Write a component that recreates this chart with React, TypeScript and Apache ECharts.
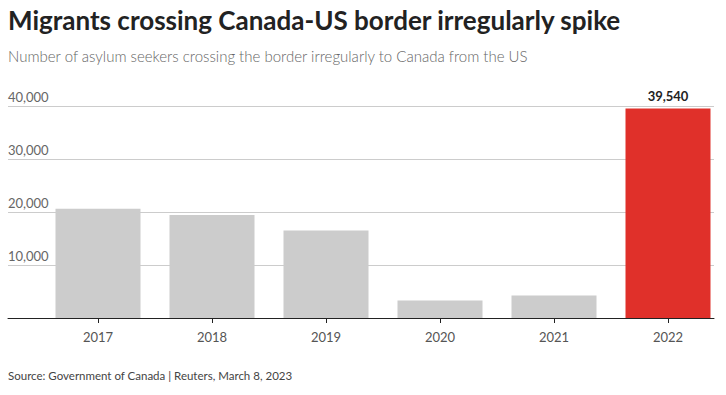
import React, { useEffect, useRef } from "react";
import * as echarts from "echarts";

const years = ["2017", "2018", "2019", "2020", "2021", "2022"];
const crossings = [20593, 19419, 16503, 3302, 4246, 39540];
const yTicks = [0, 10000, 20000, 30000, 40000];
const highlightIndex = 5;

const FONT = "Lato, 'Noto Sans', sans-serif";

export default function App() {
  const ref = useRef<HTMLDivElement>(null);
  useEffect(() => {
    if (!ref.current) return;
    const chart = echarts.init(ref.current, null, { renderer: "svg" });
    const yMax = yTicks[yTicks.length - 1];
    chart.setOption({
      animation: false,
      textStyle: { fontFamily: FONT },
      title: [
        {
          text: "Migrants crossing Canada-US border irregularly spike",
          left: 8,
          top: 7,
          padding: 0,
          textStyle: { fontSize: 26, fontWeight: "bold", color: "#222", fontFamily: FONT },
        },
        {
          text: "Number of asylum seekers crossing the border irregularly to Canada from the US",
          left: 8,
          top: 48,
          padding: 0,
          textStyle: { fontSize: 15, fontWeight: 300, color: "#666", fontFamily: FONT },
        },
        {
          text: "Source: Government of Canada | Reuters, March 8, 2023",
          left: 8,
          top: 369,
          padding: 0,
          textStyle: { fontSize: 11.5, fontWeight: "normal", color: "#444", fontFamily: FONT },
        },
      ],
      grid: [
        { left: 8, right: 12, top: 106, bottom: 77, containLabel: false },
        { left: 41, right: 1, top: 106, bottom: 77, containLabel: false },
      ],
      xAxis: [
        {
          gridIndex: 0,
          type: "category",
          data: years,
          axisLine: { show: true, lineStyle: { color: "#222", width: 1 } },
          axisTick: { show: false },
          axisLabel: { show: false },
        },
        {
          gridIndex: 1,
          type: "category",
          data: years,
          axisLine: { show: false },
          axisTick: { show: true, alignWithLabel: true, length: 5, lineStyle: { color: "#222" } },
          axisLabel: { color: "#555", fontSize: 13, margin: 12, fontFamily: FONT },
        },
      ],
      yAxis: [
        {
          gridIndex: 0,
          type: "value",
          min: 0,
          max: yMax,
          interval: 10000,
          axisLine: { show: false },
          axisTick: { show: false },
          splitLine: { show: true, lineStyle: { color: "#ccc", width: 1 } },
          axisLabel: {
            inside: true,
            showMinLabel: false,
            verticalAlign: "bottom",
            margin: 0,
            padding: [0, 0, 3, 0],
            color: "#666",
            fontSize: 13,
            fontFamily: FONT,
            formatter: (v: number) => v.toLocaleString("en-US"),
          },
        },
        {
          gridIndex: 1,
          type: "value",
          min: 0,
          max: yMax,
          interval: 10000,
          show: false,
          splitLine: { show: false },
        },
      ],
      series: [
        {
          type: "bar",
          xAxisIndex: 1,
          yAxisIndex: 1,
          barWidth: 85,
          data: crossings.map((v, i) => ({
            value: v,
            itemStyle: { color: i === highlightIndex ? "#e0302a" : "#cccccc" },
            label:
              i === highlightIndex
                ? {
                    show: true,
                    position: "top",
                    distance: 6,
                    color: "#222",
                    fontWeight: "bold",
                    fontSize: 13,
                    fontFamily: FONT,
                    formatter: (p: any) => Number(p.value).toLocaleString("en-US"),
                  }
                : { show: false },
          })),
        },
      ],
    });
    return () => chart.dispose();
  }, []);
  return <div ref={ref} style={{ width: 726, height: 395, position: "absolute", left: 0, top: 0 }} />;
}
